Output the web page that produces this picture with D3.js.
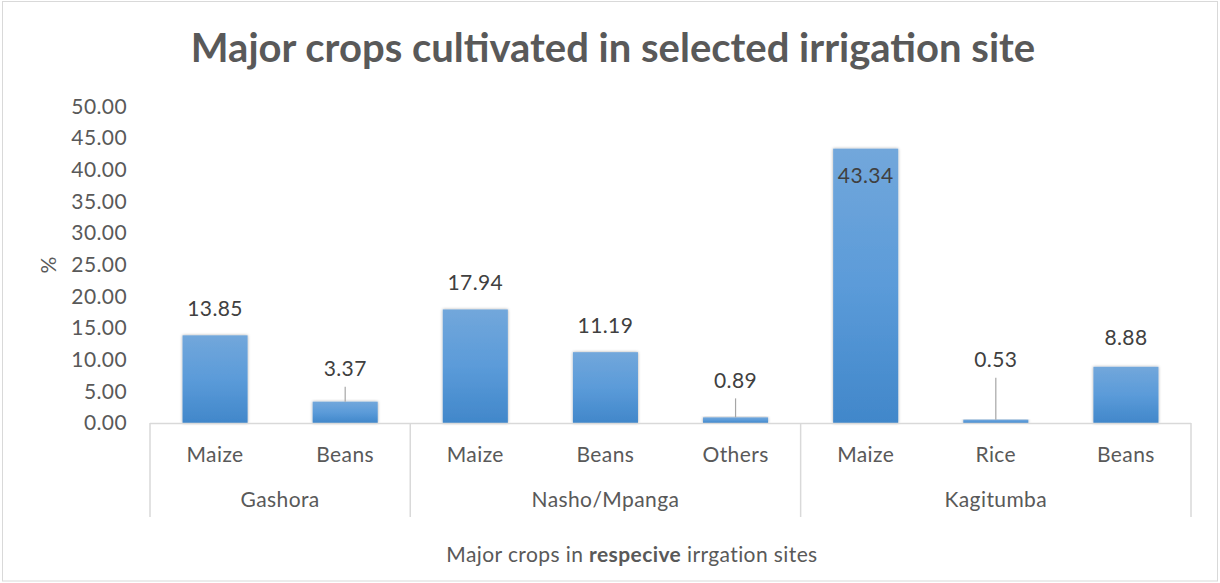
<!DOCTYPE html>
<html>
<head>
<meta charset="utf-8">
<script src="https://cdn.jsdelivr.net/npm/d3@7/dist/d3.min.js"></script>
<style>
  html, body { margin: 0; padding: 0; background: #fff; }
  svg { display: block; font-family: Lato, "Open Sans", sans-serif; }
</style>
</head>
<body>
<svg id="chart" width="1220" height="583"></svg>
<script>
// Crop shares per irrigation site
const sites  = ["Gashora", "Gashora", "Nasho/Mpanga", "Nasho/Mpanga", "Nasho/Mpanga", "Kagitumba", "Kagitumba", "Kagitumba"];
const crops  = ["Maize", "Beans", "Maize", "Beans", "Others", "Maize", "Rice", "Beans"];
const values = [13.85, 3.37, 17.94, 11.19, 0.89, 43.34, 0.53, 8.88];
const yTicks = [0, 5, 10, 15, 20, 25, 30, 35, 40, 45, 50];

// Label placement: pixels from bar top to label centre,
// whether the label sits inside the bar, and whether a leader line joins label and bar.
const labelLift = [27, 33, 27, 27, 37, 27, 60, 29];
const labelInside = [false, false, false, false, false, true, false, false];
const leader = [false, true, false, false, true, false, true, false];

const W = 1220, H = 583;
const svg = d3.select("#chart");
const textCol = "#595959";
const lineCol = "#d9d9d9";
const fs = 21, ls = 0.4;

// chart frame
svg.append("rect")
  .attr("x", 2.5).attr("y", 1.5).attr("width", W - 5).attr("height", H - 3.5)
  .attr("fill", "#fff").attr("stroke", lineCol).attr("stroke-width", 1);

const defs = svg.append("defs");
const grad = defs.append("linearGradient").attr("id", "barGrad")
  .attr("x1", 0).attr("y1", 0).attr("x2", 0).attr("y2", 1);
grad.append("stop").attr("offset", "0%").attr("stop-color", "#72a7db");
grad.append("stop").attr("offset", "50%").attr("stop-color", "#5b9bd9");
grad.append("stop").attr("offset", "100%").attr("stop-color", "#4187ca");
const shadow = defs.append("filter").attr("id", "barShadow")
  .attr("x", "-20%").attr("y", "-10%").attr("width", "140%").attr("height", "120%");
shadow.append("feDropShadow").attr("dx", 0).attr("dy", 0).attr("stdDeviation", 1.6)
  .attr("flood-color", "#000").attr("flood-opacity", 0.35);

const x = d3.scaleBand()
  .domain(d3.range(values.length))
  .range([150, 1191])
  .paddingInner(0.5).paddingOuter(0.25);

const y = d3.scaleLinear().domain([0, 50]).range([423, 106.5]);

// title
svg.append("text")
  .attr("x", 613).attr("y", 62)
  .attr("text-anchor", "middle")
  .attr("font-size", 40).attr("font-weight", 700).attr("fill", textCol)
  .text("Major crops cultivated in selected irrigation site");

// y axis (labels only)
const yAxis = d3.axisLeft(y).tickValues(yTicks).tickFormat(d3.format(".2f")).tickSize(0).tickPadding(0);
const yg = svg.append("g").attr("transform", "translate(127,0)").call(yAxis);
yg.select(".domain").remove();
yg.selectAll("text").attr("font-size", fs).attr("letter-spacing", ls).attr("fill", textCol)
  .attr("font-family", "Lato, 'Open Sans', sans-serif");

// y axis title
svg.append("text")
  .attr("transform", "translate(56,265) rotate(-90)")
  .attr("text-anchor", "middle")
  .attr("font-size", fs).attr("fill", textCol)
  .text("%");

// bars
svg.append("g").selectAll("rect").data(values).join("rect")
  .attr("x", (d, i) => x(i))
  .attr("y", d => y(d))
  .attr("width", x.bandwidth())
  .attr("height", d => y(0) - y(d))
  .attr("fill", "url(#barGrad)")
  .attr("filter", "url(#barShadow)");

// leader lines
svg.append("g").selectAll("line").data(values.map((v, i) => ({ v, i })).filter(d => leader[d.i])).join("line")
  .attr("x1", d => x(d.i) + x.bandwidth() / 2)
  .attr("x2", d => x(d.i) + x.bandwidth() / 2)
  .attr("y1", d => y(d.v))
  .attr("y2", d => y(d.v) - labelLift[d.i] + 18)
  .attr("stroke", "#a6a6a6").attr("stroke-width", 1.2);

// data labels
svg.append("g").selectAll("text").data(values).join("text")
  .attr("x", (d, i) => x(i) + x.bandwidth() / 2)
  .attr("y", (d, i) => labelInside[i] ? y(d) + labelLift[i] : y(d) - labelLift[i])
  .attr("dy", "0.35em")
  .attr("text-anchor", "middle")
  .attr("font-size", fs).attr("letter-spacing", ls).attr("fill", "#404040")
  .text(d => d3.format(".2f")(d));

// category axis: baseline and group separators
const axisG = svg.append("g");
axisG.append("line")
  .attr("x1", x.range()[0]).attr("x2", x.range()[1])
  .attr("y1", y(0) + 0.5).attr("y2", y(0) + 0.5)
  .attr("stroke", lineCol).attr("stroke-width", 1.5);

const slotStart = i => x(i) - (x.step() - x.bandwidth()) / 2;
const groups = [];
sites.forEach((s, i) => {
  if (!groups.length || groups[groups.length - 1].name !== s) groups.push({ name: s, start: i, end: i });
  else groups[groups.length - 1].end = i;
});
const bounds = groups.map(g => slotStart(g.start)).concat([x.range()[1]]);
axisG.selectAll("line.sep").data(bounds).join("line").attr("class", "sep")
  .attr("x1", d => d).attr("x2", d => d)
  .attr("y1", y(0)).attr("y2", 517)
  .attr("stroke", lineCol).attr("stroke-width", 1.5);

// crop labels
axisG.selectAll("text.crop").data(crops).join("text").attr("class", "crop")
  .attr("x", (d, i) => x(i) + x.bandwidth() / 2)
  .attr("y", 455).attr("dy", "0.35em")
  .attr("text-anchor", "middle")
  .attr("font-size", fs).attr("letter-spacing", ls).attr("fill", textCol)
  .text(d => d);

// site labels
axisG.selectAll("text.site").data(groups).join("text").attr("class", "site")
  .attr("x", g => (slotStart(g.start) + slotStart(g.end) + x.step()) / 2)
  .attr("y", 500).attr("dy", "0.35em")
  .attr("text-anchor", "middle")
  .attr("font-size", fs).attr("letter-spacing", ls).attr("fill", textCol)
  .text(g => g.name);

// x axis title
const xt = svg.append("text")
  .attr("x", 632).attr("y", 555).attr("dy", "0.35em")
  .attr("text-anchor", "middle")
  .attr("font-size", fs).attr("letter-spacing", ls).attr("fill", textCol);
xt.append("tspan").text("Major crops in ");
xt.append("tspan").attr("font-weight", 700).text("respecive");
xt.append("tspan").text(" irrgation sites");
</script>
</body>
</html>
